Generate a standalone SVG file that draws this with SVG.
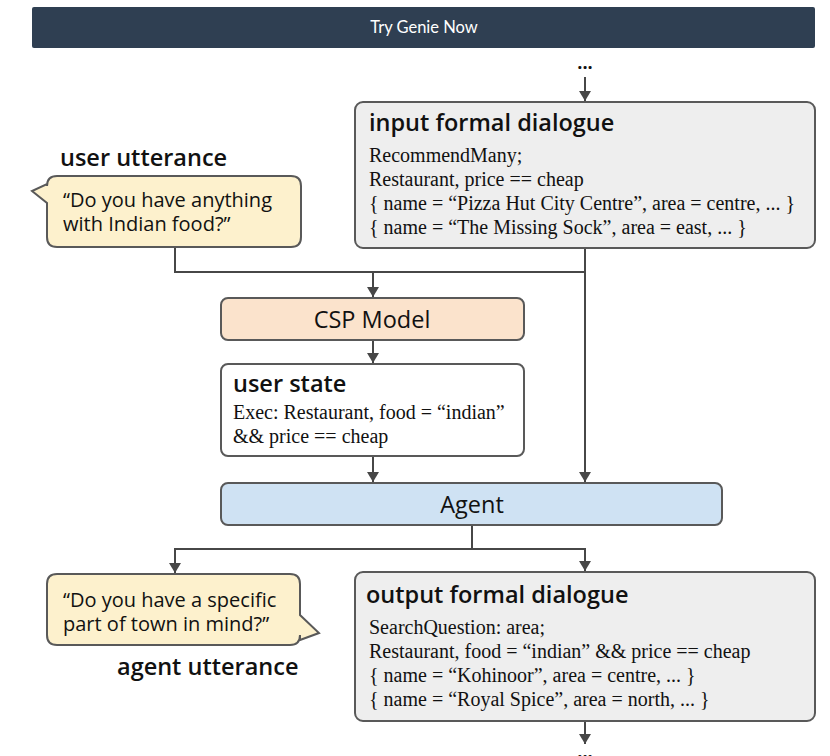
<svg xmlns="http://www.w3.org/2000/svg" width="830" height="756" viewBox="0 0 830 756">
<style>
.box{stroke:#595959;stroke-width:2}
.title{font-family:"Open Sans",sans-serif;font-weight:600;font-size:23.5px;fill:#111}
.label{font-family:"Open Sans",sans-serif;font-size:20px;fill:#111}
.big{font-family:"Open Sans",sans-serif;font-size:23.5px;fill:#111}
.code{font-family:"Liberation Serif",serif;font-size:20px;fill:#111}
.conn{fill:none;stroke:#474747;stroke-width:2}
.dots{font-family:"Open Sans",sans-serif;font-weight:700;font-size:18px;fill:#111}
</style>
<defs>
<marker id="ah" viewBox="0 0 10 12" refX="10" refY="6" markerWidth="10" markerHeight="12" markerUnits="userSpaceOnUse" orient="auto">
<path d="M0,0 L10,6 L0,12 z" fill="#474747"/>
</marker>
</defs>
<rect width="830" height="756" fill="#fff"/>
<g id="banner">
<rect x="32" y="7" width="783" height="41" rx="2" fill="#2f3f52"/>
<text x="424" y="33" text-anchor="middle" font-family="Lato,sans-serif" font-size="16.5" fill="#fff">Try Genie Now</text>
</g>
<g id="connectors">
<path class="conn" d="M585,77 V101" marker-end="url(#ah)"/>
<path class="conn" d="M175,247 V272 H585"/>
<path class="conn" d="M585,248 V482" marker-end="url(#ah)"/>
<path class="conn" d="M373,272 V297" marker-end="url(#ah)"/>
<path class="conn" d="M373,340 V363" marker-end="url(#ah)"/>
<path class="conn" d="M373,456 V482" marker-end="url(#ah)"/>
<path class="conn" d="M472,525 V549 H175 V573"  marker-end="url(#ah)"/>
<path class="conn" d="M472,549 H585 V571" marker-end="url(#ah)"/>
<path class="conn" d="M585,721 V744" marker-end="url(#ah)"/>
</g>
<text class="dots" x="585" y="69" text-anchor="middle">...</text>
<g id="input-formal-dialogue">
<rect class="box" x="355" y="102" width="460" height="146" rx="8" fill="#eeeeee"/>
<text class="title" x="369" y="131">input formal dialogue</text>
<text class="code" x="369" y="162">RecommendMany;</text>
<text class="code" x="369" y="186">Restaurant, price == cheap</text>
<text class="code" x="369" y="210">{ name = “Pizza Hut City Centre”, area = centre, ... }</text>
<text class="code" x="369" y="234">{ name = “The Missing Sock”, area = east, ... }</text>
</g>
<g id="user-utterance">
<text class="title" x="60" y="166">user utterance</text>
<path class="box" d="M57,176 H291 Q301,176 301,186 V237 Q301,247 291,247 H57 Q47,247 47,237 V203 L32,191 L47,184 V186 Q47,176 57,176 z" fill="#fdf1cd"/>
<text class="label" x="63" y="207">“Do you have anything</text>
<text class="label" x="63" y="231">with Indian food?”</text>
</g>
<g id="csp-model">
<rect class="box" x="221" y="298" width="303" height="42" rx="7" fill="#fbe3cc"/>
<text class="big" x="372" y="328" text-anchor="middle">CSP Model</text>
</g>
<g id="user-state">
<rect class="box" x="221" y="364" width="303" height="92" rx="7" fill="#ffffff"/>
<text class="title" x="233" y="392">user state</text>
<text class="code" x="233" y="419">Exec: Restaurant, food = “indian”</text>
<text class="code" x="233" y="443">&amp;&amp; price == cheap</text>
</g>
<g id="agent">
<rect class="box" x="221" y="483" width="501" height="42" rx="7" fill="#cfe2f3"/>
<text class="big" x="472" y="513" text-anchor="middle">Agent</text>
</g>
<g id="agent-utterance">
<path class="box" d="M57,574 H290 Q300,574 300,584 V615 L319,633 L300,640 V635 Q300,645 290,645 H57 Q47,645 47,635 V584 Q47,574 57,574 z" fill="#fdf1cd"/>
<text class="label" x="63" y="607">“Do you have a specific</text>
<text class="label" x="63" y="631">part of town in mind?”</text>
<text class="title" x="117" y="675">agent utterance</text>
</g>
<g id="output-formal-dialogue">
<rect class="box" x="355" y="572" width="460" height="149" rx="8" fill="#eeeeee"/>
<text class="title" x="366" y="603">output formal dialogue</text>
<text class="code" x="369" y="634">SearchQuestion: area;</text>
<text class="code" x="369" y="658">Restaurant, food = “indian” &amp;&amp; price == cheap</text>
<text class="code" x="369" y="682">{ name = “Kohinoor”, area = centre, ... }</text>
<text class="code" x="369" y="706">{ name = “Royal Spice”, area = north, ... }</text>
</g>
<text class="dots" x="585" y="758" text-anchor="middle">...</text>
</svg>
